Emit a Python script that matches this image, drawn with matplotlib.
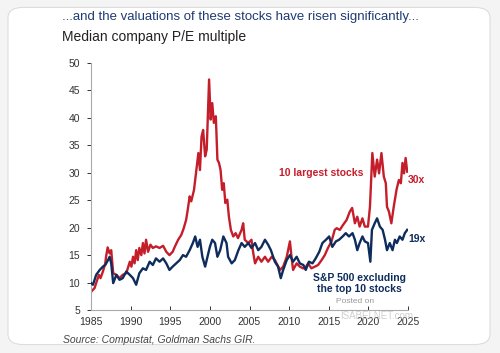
import numpy as np
import matplotlib.pyplot as plt
from matplotlib.patches import FancyBboxPatch

plt.rcParams['font.family'] = ['Liberation Sans', 'DejaVu Sans']

# 10 largest stocks, median P/E
top10_years = [1985.0, 1985.45, 1985.65, 1986.0, 1986.2, 1986.5, 1986.8, 1986.9, 1987.1, 1987.35,
               1987.55, 1987.8, 1988.2, 1988.6, 1989.0, 1989.45, 1989.9, 1990.1, 1990.3, 1990.5,
               1990.7, 1990.9, 1991.1, 1991.35, 1991.55, 1991.75, 1991.95, 1992.2, 1992.5, 1992.8,
               1993.2, 1993.65, 1994.1, 1994.5, 1994.9, 1995.3, 1995.6, 1996.0, 1996.4, 1996.7,
               1997.0, 1997.2, 1997.45, 1997.65, 1998.0, 1998.3, 1998.55, 1998.75, 1998.95, 1999.15,
               1999.4, 1999.6, 1999.9, 2000.1, 2000.3, 2000.5, 2000.75, 2000.95, 2001.15, 2001.35,
               2001.55, 2001.75, 2001.95, 2002.2, 2002.4, 2002.65, 2002.95, 2003.25, 2003.55, 2004.0,
               2004.2, 2004.4, 2004.85, 2005.25, 2005.45, 2005.7, 2006.1, 2006.5, 2006.95, 2007.35,
               2007.8, 2008.2, 2008.85, 2009.25, 2009.7, 2010.1, 2010.3, 2010.5, 2010.95, 2011.35,
               2011.75, 2012.0, 2012.4, 2012.8, 2013.25, 2013.65, 2014.1, 2014.5, 2014.9, 2015.35,
               2015.75, 2016.0, 2016.4, 2016.8, 2017.25, 2017.65, 2017.95, 2018.3, 2018.6, 2018.9,
               2019.25, 2019.55, 2019.95, 2020.2, 2020.5, 2020.8, 2021.1, 2021.35, 2021.65, 2021.95,
               2022.2, 2022.35, 2022.6, 2022.9, 2023.2, 2023.55, 2023.85, 2024.1, 2024.3, 2024.5,
               2024.7, 2024.9]
top10_pe = [8.3, 9.0, 9.9, 11.4, 10.8, 12.0, 13.5, 14.7, 16.4, 15.3,
            15.9, 11.7, 11.4, 10.8, 11.4, 11.7, 13.8, 12.9, 14.7, 13.5,
            15.9, 14.1, 16.3, 15.0, 17.2, 15.3, 17.8, 15.6, 16.9, 16.3,
            16.6, 16.3, 16.7, 15.6, 15.0, 15.6, 16.6, 17.8, 18.7, 19.9,
            21.4, 23.2, 25.7, 24.8, 26.9, 30.5, 33.6, 30.5, 36.6, 37.8,
            33.0, 34.2, 47.0, 39.7, 42.7, 39.1, 40.3, 32.4, 31.8, 30.5,
            26.9, 28.1, 24.5, 25.1, 22.0, 19.6, 18.4, 19.0, 18.1, 19.6,
            20.8, 17.8, 17.2, 17.8, 15.6, 13.5, 14.7, 13.8, 14.7, 13.8,
            14.7, 14.1, 12.3, 12.9, 14.7, 17.5, 14.7, 12.3, 13.5, 12.9,
            12.6, 12.6, 13.5, 12.6, 12.9, 13.2, 14.1, 15.0, 16.3, 17.5,
            19.6, 19.9, 19.6, 20.5, 21.4, 22.9, 23.6, 20.8, 22.0, 20.2,
            21.7, 20.2, 20.2, 23.8, 33.6, 29.3, 32.4, 29.9, 33.6, 29.3,
            28.1, 23.8, 22.9, 20.8, 23.8, 26.9, 28.7, 28.1, 31.8, 29.9,
            32.7, 30.2]

# S&P 500 excluding the top 10 stocks
rest_years = [1985.0, 1985.25, 1985.65, 1986.1, 1986.5, 1986.8, 1987.15, 1987.35, 1987.55, 1987.8,
              1988.2, 1988.6, 1989.0, 1989.45, 1989.9, 1990.3, 1990.7, 1991.1, 1991.55, 1991.95,
              1992.4, 1992.8, 1993.2, 1993.65, 1994.1, 1994.5, 1994.9, 1995.3, 1995.75, 1996.2,
              1996.6, 1997.0, 1997.45, 1997.85, 1998.15, 1998.45, 1998.75, 1999.05, 1999.4, 1999.7,
              2000.0, 2000.3, 2000.65, 2000.95, 2001.3, 2001.7, 2002.1, 2002.3, 2002.75, 2003.15,
              2003.6, 2004.0, 2004.4, 2004.85, 2005.25, 2005.7, 2006.1, 2006.5, 2006.95, 2007.35,
              2007.7, 2008.2, 2008.6, 2008.95, 2009.25, 2009.7, 2010.1, 2010.5, 2010.95, 2011.35,
              2011.8, 2012.1, 2012.5, 2012.95, 2013.35, 2013.8, 2014.2, 2014.65, 2015.05, 2015.45,
              2015.9, 2016.3, 2016.75, 2017.15, 2017.55, 2018.0, 2018.3, 2018.6, 2018.9, 2019.25,
              2019.55, 2019.95, 2020.25, 2020.45, 2020.8, 2021.1, 2021.45, 2021.8, 2022.1, 2022.35,
              2022.7, 2023.05, 2023.35, 2023.6, 2023.95, 2024.3, 2024.6, 2024.9]
rest_pe = [9.9, 9.6, 11.4, 12.3, 12.9, 13.2, 14.1, 14.7, 13.5, 9.9,
           11.4, 10.5, 10.8, 12.0, 11.4, 10.8, 9.6, 11.7, 12.6, 12.3,
           13.8, 13.2, 14.4, 13.8, 14.4, 13.5, 12.3, 12.9, 13.5, 14.1,
           15.0, 14.7, 15.9, 17.2, 18.4, 16.5, 17.8, 14.7, 12.9, 14.7,
           16.5, 17.8, 17.2, 14.7, 15.9, 18.4, 17.2, 14.7, 13.5, 14.1,
           15.9, 17.2, 16.5, 17.2, 16.3, 17.2, 15.9, 16.5, 17.8, 16.9,
           15.9, 13.8, 12.9, 10.8, 12.3, 14.1, 15.0, 13.8, 14.7, 13.5,
           13.2, 12.3, 13.8, 13.5, 14.4, 15.6, 17.2, 17.8, 18.4, 16.5,
           17.5, 17.8, 18.4, 19.0, 18.4, 19.0, 17.8, 15.9, 17.2, 18.4,
           17.5, 17.2, 13.8, 19.6, 20.8, 21.7, 20.2, 19.6, 17.8, 15.9,
           17.2, 15.9, 17.8, 17.2, 18.4, 17.8, 19.0, 19.6]

x_ticks = [1985, 1990, 1995, 2000, 2005, 2010, 2015, 2020, 2025]
y_ticks = [5, 10, 15, 20, 25, 30, 35, 40, 45, 50]

red = '#C41E2A'
navy = '#0E2C5C'

fig = plt.figure(figsize=(5.0, 3.53), dpi=100)
fig.patch.set_facecolor('#F4F4F4')

# card background
card = FancyBboxPatch((0.016, 0.024), 0.964, 0.955, boxstyle='round,pad=0,rounding_size=0.03',
                      transform=fig.transFigure, facecolor='white', edgecolor='#DDDDDD',
                      linewidth=0.8, zorder=-5)
fig.patches.append(card)

ax = fig.add_axes([0.182, 0.1218, 0.634, 0.6997])
ax.set_zorder(2)
ax.plot(top10_years, top10_pe, color=red, lw=1.7, zorder=2)
ax.plot(rest_years, rest_pe, color=navy, lw=1.7, zorder=3)

ax.set_xlim(1985, 2025)
ax.set_ylim(5, 50)
ax.set_xticks(x_ticks)
ax.set_yticks(y_ticks)
ax.tick_params(axis='both', labelsize=7.5, colors='#333333', length=3, width=0.7)
ax.tick_params(axis='x', direction='in', pad=5)
ax.tick_params(axis='y', direction='out', pad=5)
for s in ['top', 'right']:
    ax.spines[s].set_visible(False)
for s in ['left', 'bottom']:
    ax.spines[s].set_color('#AAAAAA')
    ax.spines[s].set_linewidth(0.8)
ax.patch.set_alpha(0)

# annotations
ax.text(2014.1, 30.0, '10 largest stocks', color=red, fontsize=7.5, fontweight='bold',
        ha='center', va='center')
ax.text(2025.0, 28.7, '30x', color=red, fontsize=7.5, fontweight='bold', ha='left', va='center')
ax.text(2025.0, 18.0, '19x', color=navy, fontsize=7.5, fontweight='bold', ha='left', va='center')
ax.text(2018.9, 9.9, 'S&P 500 excluding\nthe top 10 stocks', color=navy, fontsize=7.5,
        fontweight='bold', ha='center', va='center', linespacing=1.1)
ax.text(2018.3, 6.5, 'Posted on', color='#999999', fontsize=6, ha='center', va='center')
ax.text(2021.0, 3.9, 'ISABELNET.com', color='#C4C4C4', fontsize=7, ha='center', va='center',
        clip_on=False, alpha=0.8)

fig.text(0.124, 0.952, '...and the valuations of these stocks have risen significantly...',
         color='#1F3B73', fontsize=9.5, ha='left', va='center')
fig.text(0.124, 0.895, 'Median company P/E multiple', color='#222222', fontsize=10,
         ha='left', va='center')
fig.text(0.126, 0.037, 'Source: Compustat, Goldman Sachs GIR.', color='#444444', fontsize=7.5,
         style='italic', ha='left', va='center')

fig.savefig('out.png', dpi=100, facecolor=fig.get_facecolor())
